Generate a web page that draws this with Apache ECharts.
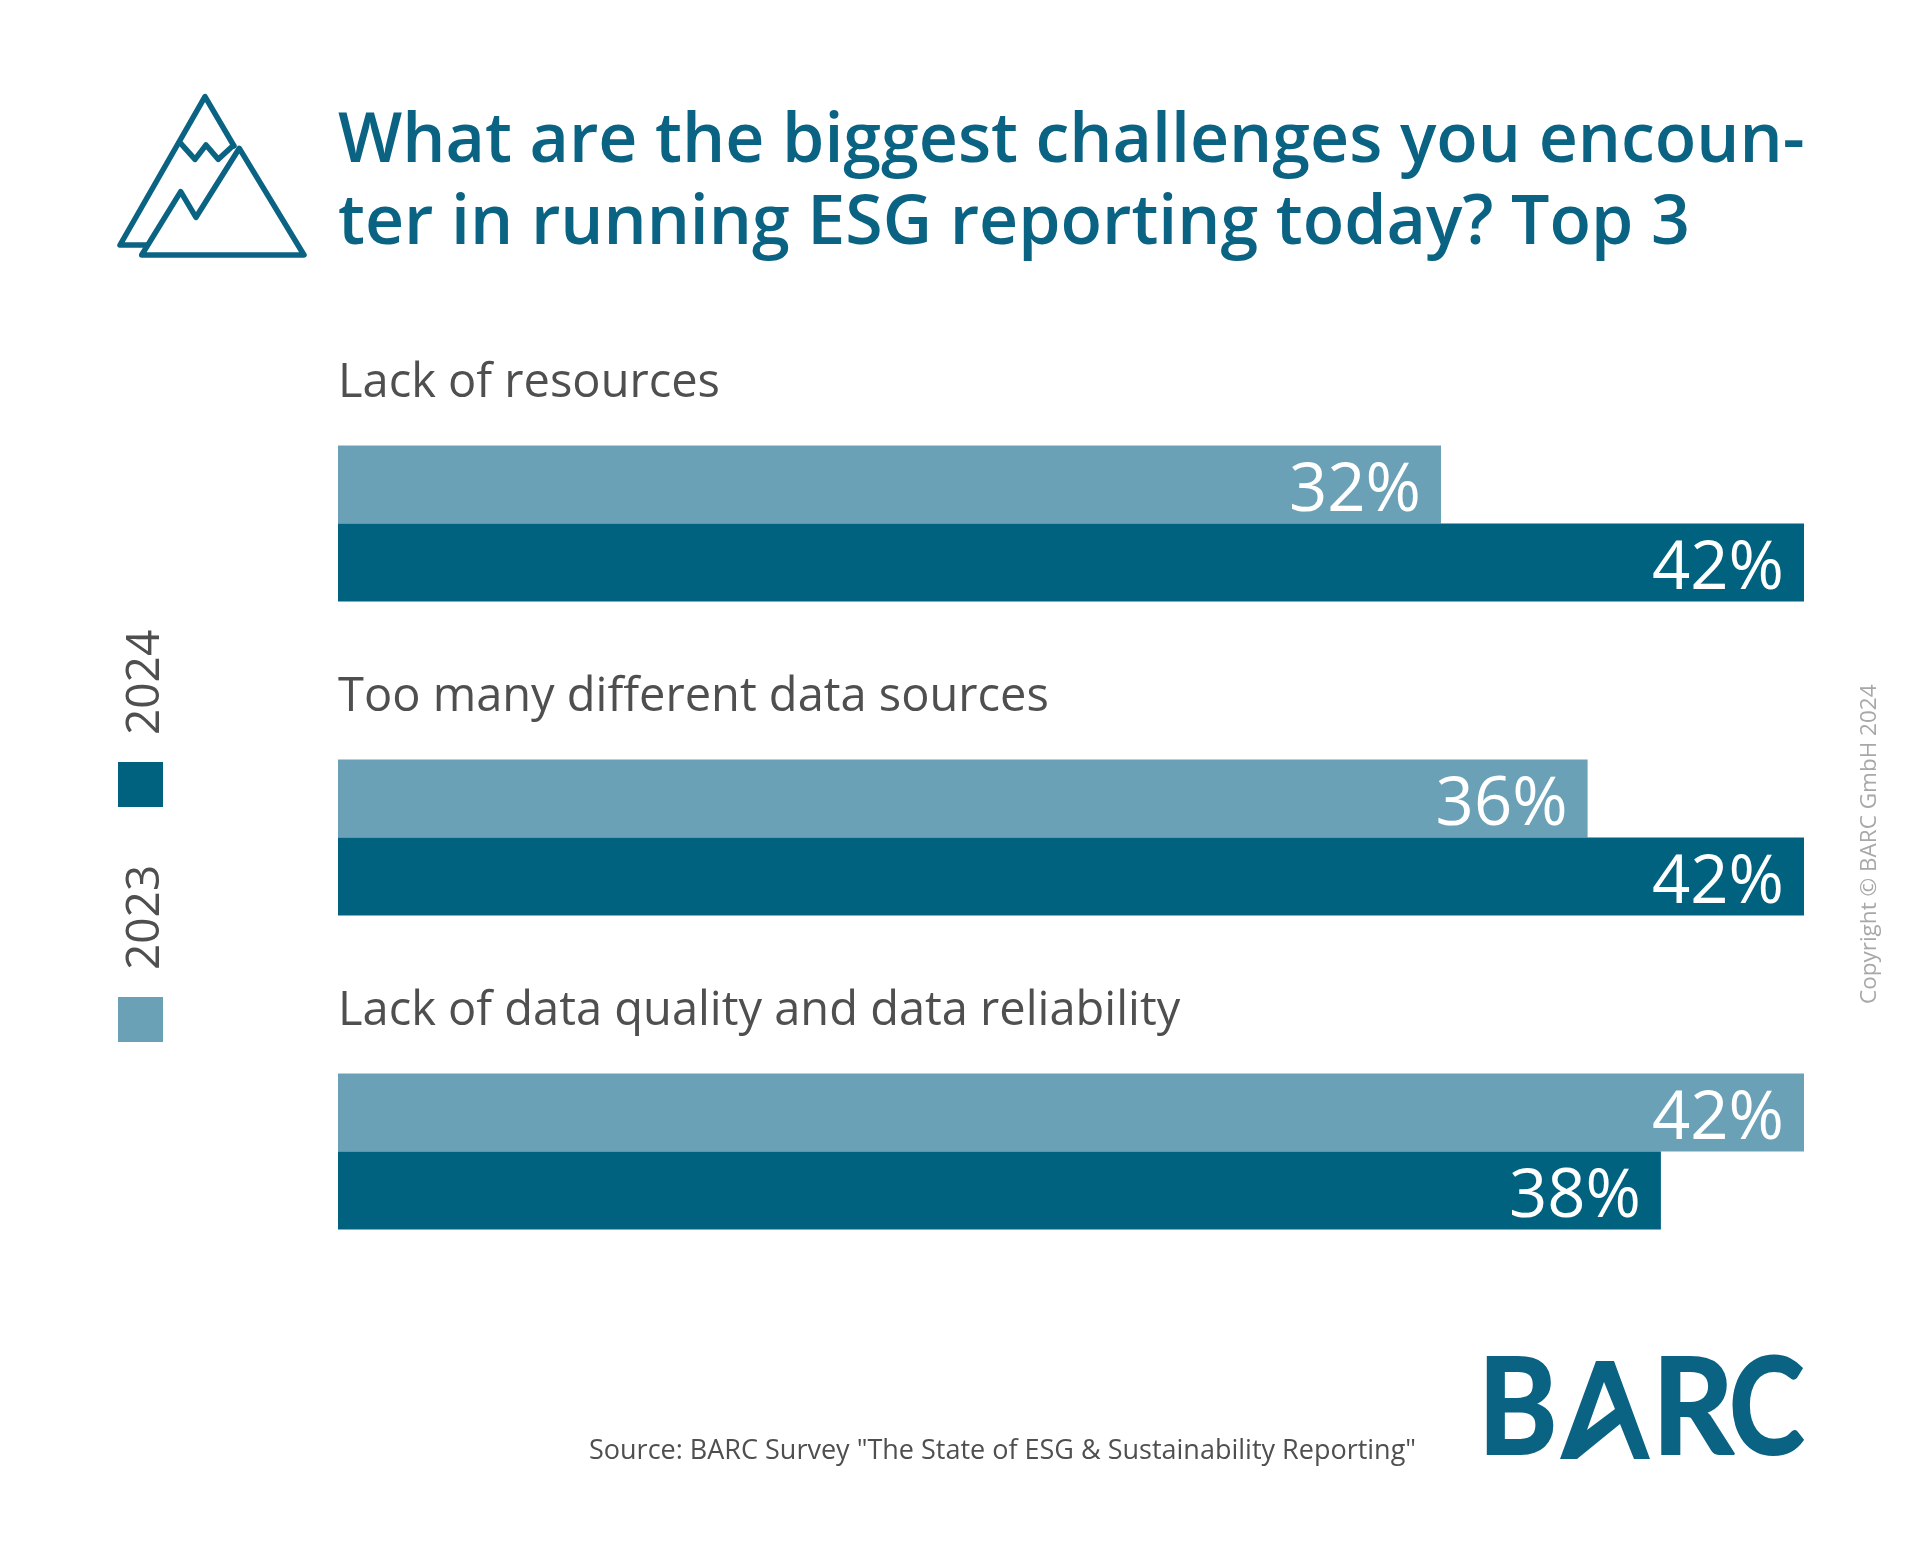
<!DOCTYPE html>
<html>
<head>
<meta charset="utf-8">
<title>ESG reporting challenges</title>
<script src="https://cdn.jsdelivr.net/npm/echarts@6/dist/echarts.min.js"></script>
<style>
html, body { margin: 0; padding: 0; background: #fff; }
#chart { width: 1920px; height: 1550px; }
</style>
</head>
<body>
<div id="chart"></div>
<script>
let chart = echarts.init(document.getElementById('chart'));

let blue = '#00627f';
let lightBlue = '#6aa1b6';
let iconBlue = '#0a6382';
let grey = '#4f4f4f';
let font = '"Open Sans", sans-serif';

let categories = ['Lack of resources', 'Too many different data sources', 'Lack of data quality and data reliability'];
// bar lengths are a little off the printed rounded numbers
let data2023 = [31.6, 35.8, 42];
let data2024 = [42, 42, 37.9];

function barLabel() {
    return {
        show: true,
        position: 'insideRight',
        distance: 20,
        offset: [0, 7],
        color: '#fff',
        fontFamily: font,
        fontSize: 67,
        fontWeight: 500,
        formatter: function (p) {
            return Math.round(p.value) + '%';
        }
    };
}

function icon(points, close) {
    return {
        type: close ? 'polygon' : 'polyline',
        shape: { points: points.map(function (p) { return [80 + p[0] / 3, 60 + p[1] / 3]; }) },
        style: { fill: close ? 'none' : null, stroke: iconBlue, lineWidth: 5.5, lineJoin: 'round', lineCap: 'round' }
    };
}

function legendItem(y, color, label) {
    return [
        { type: 'rect', shape: { x: 118, y: y, width: 45, height: 45 }, style: { fill: color } },
        {
            type: 'text', x: 146, y: y - 27, rotation: Math.PI / 2,
            style: { text: label, fill: grey, font: '46px ' + font, textAlign: 'left', textVerticalAlign: 'middle' }
        }
    ];
}

function logoLetter(x, text, scaleX) {
    return {
        type: 'text', x: x, y: 1411, scaleX: scaleX,
        style: { text: text, fill: iconBlue, stroke: iconBlue, lineWidth: 2, font: '700 134px Lato, sans-serif', textAlign: 'left', textVerticalAlign: 'middle' }
    };
}

let option = {
    backgroundColor: '#fff',
    animation: false,
    title: {
        text: 'What are the biggest challenges you encoun-\nter in running ESG reporting today? Top 3',
        left: 338,
        top: 102,
        padding: 0,
        textStyle: { fontFamily: font, fontSize: 68, fontWeight: 600, color: iconBlue, lineHeight: 82 }
    },
    // second grid sits higher up and only carries the category names above the bars
    grid: [
        { left: 338, top: 366.5, width: 1466, height: 942 },
        { left: 338, top: 227, width: 1466, height: 942 }
    ],
    xAxis: [
        { type: 'value', gridIndex: 0, min: 0, max: 42, show: false },
        { type: 'value', gridIndex: 1, min: 0, max: 42, show: false }
    ],
    yAxis: [
        {
            type: 'category',
            gridIndex: 0,
            inverse: true,
            data: categories,
            axisLine: { show: false },
            axisTick: { show: false },
            axisLabel: { show: false }
        },
        {
            type: 'category',
            gridIndex: 1,
            inverse: true,
            data: categories,
            axisLine: { show: false },
            axisTick: { show: false },
            axisLabel: {
                inside: true,
                interval: 0,
                margin: 0,
                align: 'left',
                color: grey,
                fontFamily: font,
                fontSize: 47
            }
        }
    ],
    series: [
        { name: '2023', type: 'bar', data: data2023, barWidth: 78, barGap: 0, itemStyle: { color: lightBlue }, label: barLabel() },
        { name: '2024', type: 'bar', data: data2024, barWidth: 78, barGap: 0, itemStyle: { color: blue }, label: barLabel() }
    ],
    graphic: [
        icon([[462, 258], [375, 110], [120, 555], [200, 555]]),
        icon([[300, 248], [345, 298], [378, 255], [415, 298], [458, 258]]),
        icon([[185, 585], [302, 395], [348, 472], [478, 265], [672, 585]], true)
    ].concat(
        legendItem(762, blue, '2024'),
        legendItem(997, lightBlue, '2023'),
        [
            {
                type: 'text', x: 1870, y: 1004, rotation: Math.PI / 2,
                style: { text: 'Copyright © BARC GmbH 2024', fill: '#a8a8a8', font: '22.5px ' + font, textAlign: 'left', textVerticalAlign: 'middle' }
            },
            {
                type: 'text', x: 589, y: 1451,
                style: { text: 'Source: BARC Survey "The State of ESG & Sustainability Reporting"', fill: grey, font: '27px ' + font, textAlign: 'left', textVerticalAlign: 'middle' }
            },
            logoLetter(1478, 'B', 0.9),
            logoLetter(1652, 'R', 0.95),
            logoLetter(1729, 'C', 0.85),
            // the A of the logo has a cut-out, so outer shape plus white triangle
            {
                type: 'polygon',
                shape: { points: [[1560, 1459], [1596, 1361], [1614, 1361], [1650, 1459], [1634, 1459], [1620, 1424], [1577, 1459]] },
                style: { fill: iconBlue }
            },
            {
                type: 'polygon',
                shape: { points: [[1604, 1382], [1587, 1430], [1615, 1409]] },
                style: { fill: '#fff' }
            }
        ]
    )
};
chart.setOption(option);
window.addEventListener('resize', function () {
    chart.resize();
});
</script>
</body>
</html>
